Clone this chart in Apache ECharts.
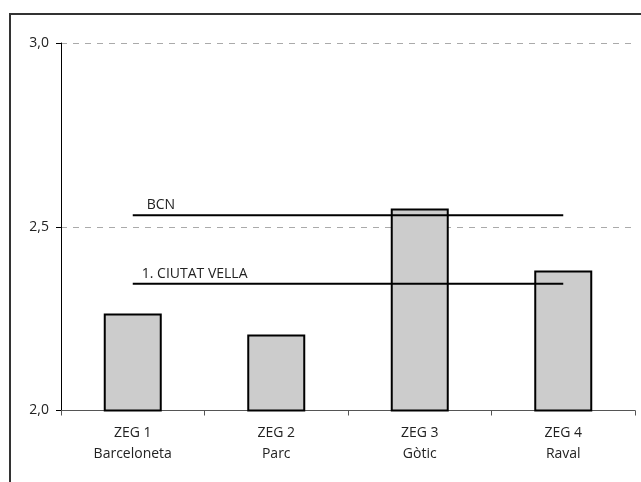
<!DOCTYPE html>
<html>
<head>
<meta charset="utf-8">
<script src="https://cdn.jsdelivr.net/npm/echarts@6/dist/echarts.min.js"></script>
<style>
html,body{margin:0;padding:0;background:#fff;}
#chart{width:641px;height:482px;}
</style>
</head>
<body>
<div id="chart"></div>
<script>
var categories = ['ZEG 1\nBarceloneta', 'ZEG 2\nParc', 'ZEG 3\nGòtic', 'ZEG 4\nRaval'];
var zegValues = [2.264, 2.207, 2.550, 2.381];
var bcnValues = [2.531, 2.531, 2.531, 2.531];
var ciutatVellaValues = [2.345, 2.345, 2.345, 2.345];
var bcnLabel = 'BCN';
var ciutatVellaLabel = '1. CIUTAT VELLA';

var FONT = '"Open Sans", sans-serif';
var FS = 14;

function lineLabel(text, dx) {
  return {
    show: true, position: 'top', align: 'left', offset: [dx, 0], distance: 3,
    color: '#222', fontSize: FS, fontFamily: FONT,
    formatter: function (p) { return p.dataIndex === 0 ? text : ''; }
  };
}

var chart = echarts.init(document.getElementById('chart'));
chart.setOption({
  animation: false,
  textStyle: { fontFamily: FONT },
  grid: { left: 61, right: 6, top: 43, bottom: 71.5, containLabel: false },
  graphic: [{
    type: 'polyline',
    shape: { points: [[10, 482], [10, 14], [641, 14]] },
    style: { stroke: '#333', lineWidth: 2, fill: null },
    silent: true
  }],
  xAxis: {
    type: 'category',
    data: categories,
    axisLine: { lineStyle: { color: '#555', width: 1 } },
    axisTick: { show: true, inside: false, length: 5, lineStyle: { color: '#555' } },
    axisLabel: { color: '#222', fontSize: FS, lineHeight: 21, margin: 12, fontFamily: FONT },
    splitLine: { show: false }
  },
  yAxis: {
    type: 'value',
    min: 2, max: 3, interval: 0.5,
    axisLine: { show: true, lineStyle: { color: '#000', width: 1 } },
    axisTick: { show: true, length: 5, lineStyle: { color: '#000' } },
    axisLabel: {
      color: '#222', fontSize: FS, margin: 12, fontFamily: FONT,
      formatter: function (v) { return v.toFixed(1).replace('.', ','); }
    },
    splitLine: { show: true, lineStyle: { color: '#aaa', type: [6, 6], width: 1 } }
  },
  series: [
    {
      type: 'bar',
      data: zegValues,
      barWidth: 58,
      itemStyle: { color: '#cccccc', borderColor: '#000', borderWidth: 2 },
      z: 2
    },
    {
      type: 'line',
      data: bcnValues,
      symbol: 'circle', symbolSize: 0, showSymbol: true,
      label: lineLabel(bcnLabel, 14),
      lineStyle: { color: '#000', width: 2 },
      z: 3
    },
    {
      type: 'line',
      data: ciutatVellaValues,
      symbol: 'circle', symbolSize: 0, showSymbol: true,
      label: lineLabel(ciutatVellaLabel, 9),
      lineStyle: { color: '#000', width: 2 },
      z: 3
    }
  ]
});
</script>
</body>
</html>
